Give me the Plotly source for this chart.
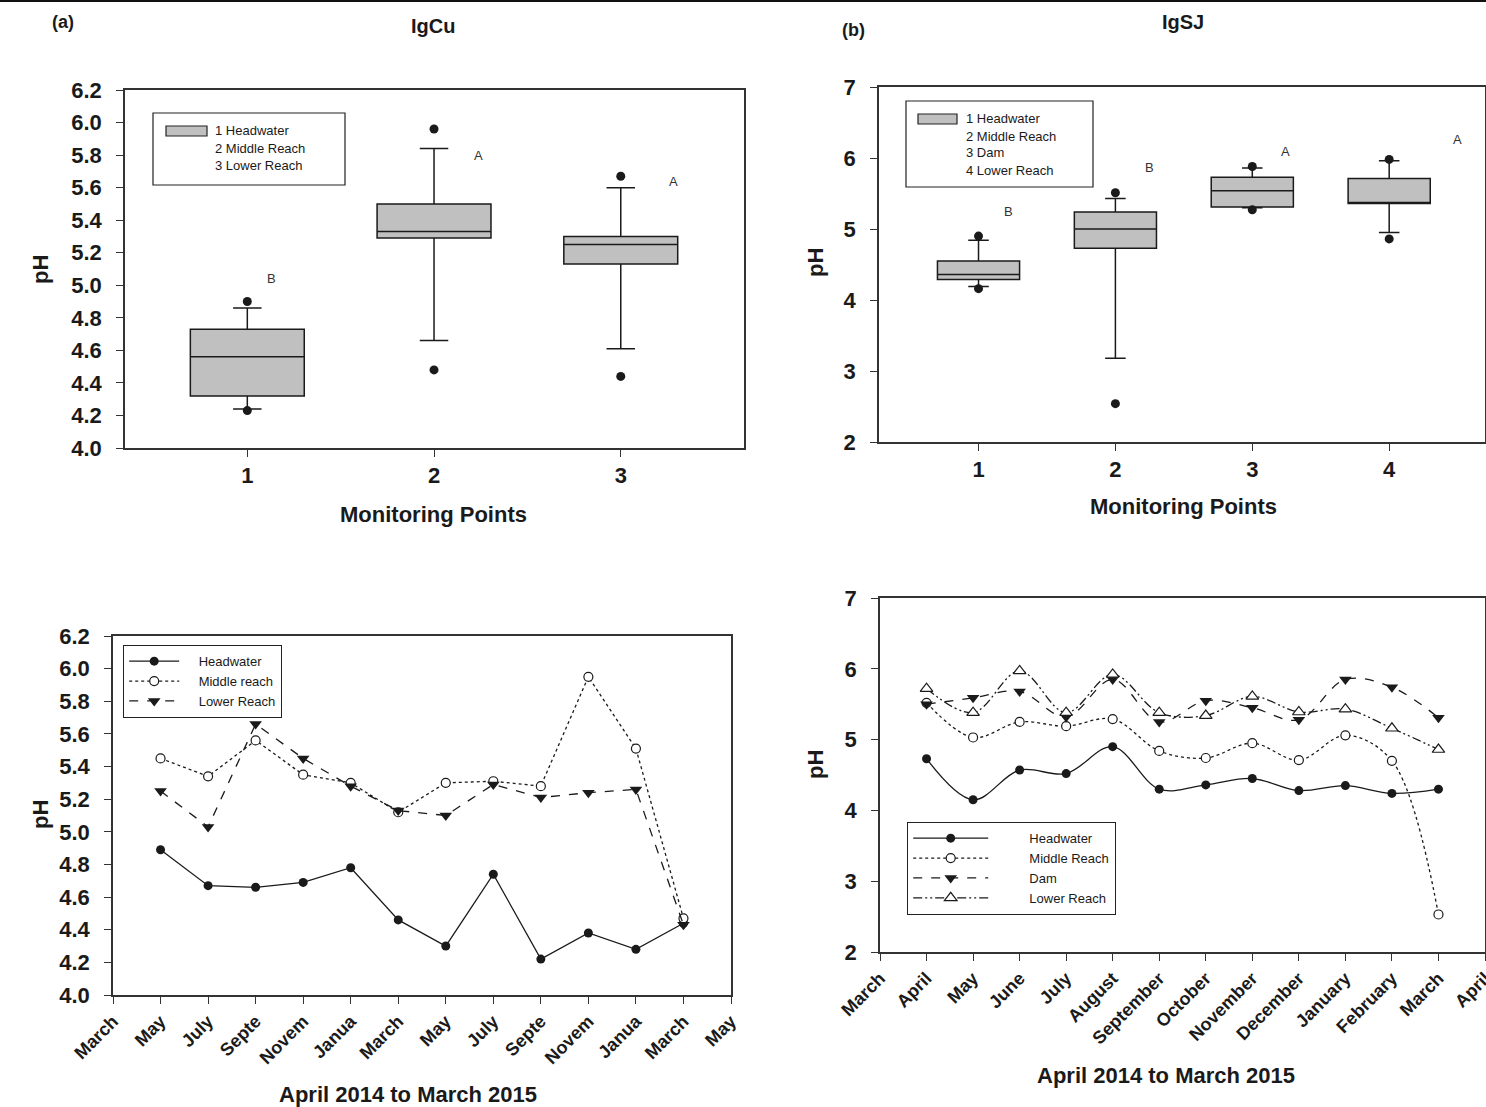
import plotly.graph_objects as go

W, H = 1486, 1107


def px(x):
    return x / W


def py(y):
    return 1 - y / H


# ---------------- Panel (a) IgCu box statistics ----------------
a_points = [1, 2, 3]
a_q1 = [4.32, 5.29, 5.13]
a_median = [4.56, 5.33, 5.25]
a_q3 = [4.73, 5.50, 5.30]
a_lower = [4.24, 4.66, 4.61]
a_upper = [4.86, 5.84, 5.60]
a_out_x = [1, 1, 2, 2, 3, 3]
a_out_y = [4.90, 4.23, 5.96, 4.48, 5.67, 4.44]
a_letters = ["B", "A", "A"]
a_letter_x = [1.13, 2.24, 3.28]
a_letter_y = [5.04, 5.80, 5.64]
a_legend = ["1 Headwater", "2 Middle Reach", "3 Lower Reach"]

# ---------------- Panel (b) IgSJ box statistics ----------------
b_points = [1, 2, 3, 4]
b_q1 = [4.29, 4.73, 5.31, 5.36]
b_median = [4.36, 5.00, 5.54, 5.37]
b_q3 = [4.55, 5.24, 5.73, 5.71]
b_lower = [4.19, 3.18, 5.30, 4.95]
b_upper = [4.84, 5.43, 5.86, 5.96]
b_out_x = [1, 1, 2, 2, 3, 3, 4, 4]
b_out_y = [4.90, 4.16, 5.51, 2.54, 5.88, 5.27, 5.98, 4.86]
b_letters = ["B", "B", "A", "A"]
b_letter_x = [1.22, 2.25, 3.24, 4.50]
b_letter_y = [5.24, 5.86, 6.09, 6.26]
b_legend = ["1 Headwater", "2 Middle Reach", "3 Dam", "4 Lower Reach"]

# ---------------- Panel (c) IgCu monthly series ----------------
c_pos = [1, 2, 3, 4, 5, 6, 7, 8, 9, 10, 11, 12]
c_head = [4.89, 4.67, 4.66, 4.69, 4.78, 4.46, 4.30, 4.74, 4.22, 4.38, 4.28, 4.44]
c_mid = [5.45, 5.34, 5.56, 5.35, 5.30, 5.12, 5.30, 5.31, 5.28, 5.95, 5.51, 4.47]
c_low = [5.25, 5.03, 5.66, 5.45, 5.28, 5.13, 5.10, 5.29, 5.21, 5.24, 5.26, 4.43]
c_tickvals = [0, 1, 2, 3, 4, 5, 6, 7, 8, 9, 10, 11, 12, 13]
c_ticks = ["March", "May", "July", "Septe", "Novem", "Janua", "March",
           "May", "July", "Septe", "Novem", "Janua", "March", "May"]

# ---------------- Panel (d) IgSJ monthly series ----------------
d_pos = [1, 2, 3, 4, 5, 6, 7, 8, 9, 10, 11, 12]
d_head = [4.73, 4.15, 4.57, 4.52, 4.90, 4.30, 4.36, 4.45, 4.28, 4.35, 4.24, 4.30]
d_mid = [5.52, 5.03, 5.25, 5.19, 5.29, 4.84, 4.74, 4.95, 4.71, 5.06, 4.70, 2.53]
d_dam = [5.50, 5.59, 5.68, 5.32, 5.85, 5.25, 5.55, 5.45, 5.28, 5.85, 5.74, 5.31]
d_lower = [5.72, 5.38, 5.97, 5.38, 5.92, 5.38, 5.34, 5.61, 5.39, 5.43, 5.16, 4.86]
d_tickvals = [0, 1, 2, 3, 4, 5, 6, 7, 8, 9, 10, 11, 12, 13]
d_ticks = ["March", "April", "May", "June", "July", "August", "September", "October",
           "November", "December", "January", "February", "March", "April"]

FONT = "Arial, 'Liberation Sans', sans-serif"
INK = "#1a1a1a"
GRAY = "#c0c0c0"

fig = go.Figure()

# ---- box panels ----
fig.add_trace(go.Box(x=a_points, q1=a_q1, median=a_median, q3=a_q3,
                     lowerfence=a_lower, upperfence=a_upper, width=0.61,
                     whiskerwidth=0.25, fillcolor=GRAY, boxpoints=False,
                     line=dict(color=INK, width=1.5), showlegend=False,
                     xaxis="x", yaxis="y", hoverinfo="skip"))
fig.add_trace(go.Scatter(x=a_out_x, y=a_out_y, mode="markers",
                         marker=dict(color=INK, size=9), showlegend=False,
                         xaxis="x", yaxis="y"))
fig.add_trace(go.Box(x=b_points, q1=b_q1, median=b_median, q3=b_q3,
                     lowerfence=b_lower, upperfence=b_upper, width=0.6,
                     whiskerwidth=0.25, fillcolor=GRAY, boxpoints=False,
                     line=dict(color=INK, width=1.5), showlegend=False,
                     xaxis="x2", yaxis="y2", hoverinfo="skip"))
fig.add_trace(go.Scatter(x=b_out_x, y=b_out_y, mode="markers",
                         marker=dict(color=INK, size=9), showlegend=False,
                         xaxis="x2", yaxis="y2"))

# ---- panel (c) lines ----
NA = "\u00a0" * 4
fig.add_trace(go.Scatter(x=c_pos, y=c_head, mode="lines+markers", name=NA + "Headwater",
                         line=dict(color=INK, width=1.3, dash="solid"),
                         marker=dict(symbol="circle", size=9, color=INK),
                         xaxis="x3", yaxis="y3", legend="legend"))
fig.add_trace(go.Scatter(x=c_pos, y=c_mid, mode="lines+markers", name=NA + "Middle reach",
                         line=dict(color=INK, width=1.3, dash="dot"),
                         marker=dict(symbol="circle", size=9, color="white",
                                     line=dict(color=INK, width=1.2)),
                         xaxis="x3", yaxis="y3", legend="legend"))
fig.add_trace(go.Scatter(x=c_pos, y=c_low, mode="lines+markers", name=NA + "Lower Reach",
                         line=dict(color=INK, width=1.3, dash="dash"),
                         marker=dict(symbol="triangle-down", size=11, color=INK),
                         xaxis="x3", yaxis="y3", legend="legend"))

# ---- panel (d) lines ----
NB = "\u00a0" * 10
fig.add_trace(go.Scatter(x=d_pos, y=d_head, mode="lines+markers", name=NB + "Headwater",
                         line=dict(color=INK, width=1.3, dash="solid", shape="spline"),
                         marker=dict(symbol="circle", size=9, color=INK),
                         xaxis="x4", yaxis="y4", legend="legend2"))
fig.add_trace(go.Scatter(x=d_pos, y=d_mid, mode="lines+markers", name=NB + "Middle Reach",
                         line=dict(color=INK, width=1.3, dash="dot", shape="spline"),
                         marker=dict(symbol="circle", size=9, color="white",
                                     line=dict(color=INK, width=1.2)),
                         xaxis="x4", yaxis="y4", legend="legend2"))
fig.add_trace(go.Scatter(x=d_pos, y=d_dam, mode="lines+markers", name=NB + "Dam",
                         line=dict(color=INK, width=1.3, dash="dash", shape="spline"),
                         marker=dict(symbol="triangle-down", size=11, color=INK),
                         xaxis="x4", yaxis="y4", legend="legend2"))
fig.add_trace(go.Scatter(x=d_pos, y=d_lower, mode="lines+markers", name=NB + "Lower Reach",
                         line=dict(color=INK, width=1.3, dash="9px,3px,2px,3px,2px,3px", shape="spline"),
                         marker=dict(symbol="triangle-up", size=11, color="white",
                                     line=dict(color=INK, width=1.2)),
                         xaxis="x4", yaxis="y4", legend="legend2"))

tickfont = dict(family=FONT, size=22, color=INK, weight="bold")
axis_common = dict(showline=True, linecolor="#333", linewidth=1.5, mirror=True,
                   ticks="outside", ticklen=7, tickcolor="#333", tickwidth=1.3,
                   showgrid=False, zeroline=False, tickfont=tickfont, automargin=False)
yextra = dict(ticklabelstandoff=10)
month_font = dict(family=FONT, size=18, color=INK, weight="bold")

layout = dict(
    width=W, height=H, paper_bgcolor="white", plot_bgcolor="white",
    margin=dict(l=0, r=0, t=0, b=0, pad=0, autoexpand=False),
    xaxis=dict(domain=[px(125), px(744)], range=[0.345, 3.66], tickvals=a_points,
               anchor="y", **axis_common),
    yaxis=dict(domain=[py(448), py(90)], range=[4.0, 6.2], dtick=0.2, tick0=4.0,
               tickformat=".1f", anchor="x", **axis_common, **yextra),
    xaxis2=dict(domain=[px(879), px(1485)], range=[0.273, 4.70], tickvals=b_points,
                anchor="y2", **axis_common),
    yaxis2=dict(domain=[py(442), py(87)], range=[2, 7], dtick=1, anchor="x2",
                **axis_common, **yextra),
    xaxis3=dict(domain=[px(113), px(731)], range=[0, 13], tickvals=c_tickvals, ticktext=c_ticks,
                tickangle=-45, anchor="y3", ticklabeloverflow="allow",
                **{**axis_common, "tickfont": month_font}),
    yaxis3=dict(domain=[py(995), py(636)], range=[4.0, 6.2], dtick=0.2, tick0=4.0,
                tickformat=".1f", anchor="x3", **axis_common, **yextra),
    xaxis4=dict(domain=[px(880), px(1485)], range=[0, 13], tickvals=d_tickvals, ticktext=d_ticks,
                tickangle=-45, anchor="y4", ticklabeloverflow="allow",
                **{**axis_common, "tickfont": month_font}),
    yaxis4=dict(domain=[py(952), py(598)], range=[2, 7], dtick=1, anchor="x4",
                **axis_common, **yextra),
    legend=dict(x=px(123), y=py(645), xanchor="left", yanchor="top",
                bordercolor="#222", borderwidth=1.2, bgcolor="white",
                font=dict(family=FONT, size=13, color=INK), itemwidth=50,
                tracegroupgap=0),
    legend2=dict(x=px(907), y=py(822), xanchor="left", yanchor="top",
                 bordercolor="#222", borderwidth=1.2, bgcolor="white",
                 font=dict(family=FONT, size=13, color=INK), itemwidth=75,
                 tracegroupgap=0),
)
fig.update_layout(**layout)

ann = []
shapes = []


def text(x, y, s, size, bold=True, angle=0, color=INK):
    ann.append(dict(x=px(x), y=py(y), xref="paper", yref="paper", text=s, showarrow=False,
                    textangle=angle, xanchor="center", yanchor="middle",
                    font=dict(family=FONT, size=size, color=color,
                              weight="bold" if bold else "normal")))


# titles and axis labels
text(63, 22, "(a)", 18)
text(433, 26, "IgCu", 20)
text(853, 30, "(b)", 18)
text(1183, 22, "IgSJ", 20)
text(433, 514, "Monitoring Points", 22)
text(1183, 507, "Monitoring Points", 22)
text(408, 1094, "April 2014 to March 2015", 22)
text(1166, 1075, "April 2014 to March 2015", 22)
text(40, 270, "pH", 22, angle=-90)
text(815, 263, "pH", 22, angle=-90)
text(40, 815, "pH", 22, angle=-90)
text(815, 765, "pH", 22, angle=-90)

# significance letters (data coordinates)
for t, lx, ly in zip(a_letters, a_letter_x, a_letter_y):
    ann.append(dict(x=lx, y=ly, xref="x", yref="y", text=t, showarrow=False,
                    font=dict(family=FONT, size=13, color="#333")))
for t, lx, ly in zip(b_letters, b_letter_x, b_letter_y):
    ann.append(dict(x=lx, y=ly, xref="x2", yref="y2", text=t, showarrow=False,
                    font=dict(family=FONT, size=13, color="#333")))


# box-plot legends (drawn as a framed key)
def box_key(x0, y0, x1, y1, sw, labels, tx, ty0, dy):
    shapes.append(dict(type="rect", xref="paper", yref="paper", x0=px(x0), x1=px(x1),
                       y0=py(y1), y1=py(y0), line=dict(color="#222", width=1.2),
                       fillcolor="white", layer="above"))
    shapes.append(dict(type="rect", xref="paper", yref="paper", x0=px(sw[0]), x1=px(sw[1]),
                       y0=py(sw[3]), y1=py(sw[2]), line=dict(color="#222", width=1.2),
                       fillcolor=GRAY, layer="above"))
    for i, lab in enumerate(labels):
        ann.append(dict(x=px(tx), y=py(ty0 + i * dy), xref="paper", yref="paper", text=lab,
                        showarrow=False, xanchor="left", yanchor="middle",
                        font=dict(family=FONT, size=13, color=INK)))


box_key(153, 113, 345, 185, (166, 207, 126, 136), a_legend, 213, 131, 17)
box_key(906, 101, 1093, 187, (918, 957, 114, 124), b_legend, 964, 119, 17)

# thin rule along the top edge
shapes.append(dict(type="line", xref="paper", yref="paper", x0=0, x1=1, y0=py(1), y1=py(1),
                   line=dict(color="#111", width=2)))

fig.update_layout(annotations=ann, shapes=shapes)
fig.write_html("out.html", config={"displayModeBar": False},
               post_script="document.body.style.margin='0';document.body.style.padding='0';")
